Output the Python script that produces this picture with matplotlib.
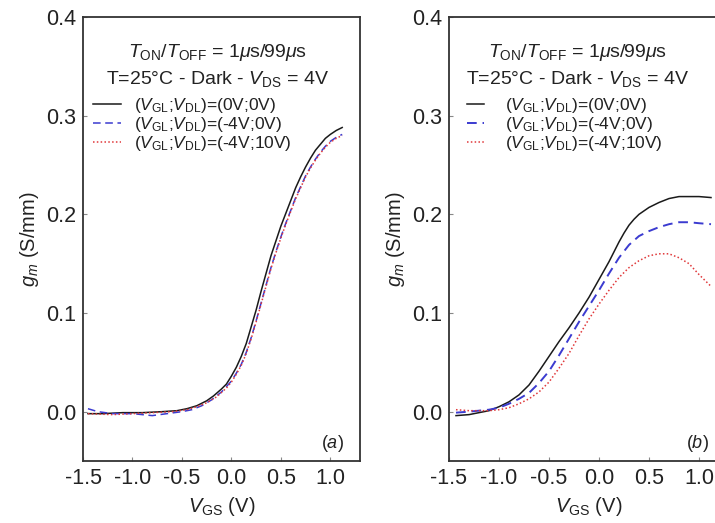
import matplotlib
matplotlib.use("Agg")
import matplotlib.pyplot as plt

plt.rcParams['font.family'] = ['Liberation Sans', 'DejaVu Sans']
plt.rcParams['mathtext.fontset'] = 'custom'
plt.rcParams['mathtext.rm'] = 'Liberation Sans'
plt.rcParams['mathtext.it'] = 'Liberation Sans:italic'
plt.rcParams['mathtext.bf'] = 'Liberation Sans:bold'

# panel (a)
xa_black = [-1.45, -1.3, -1.1, -0.9, -0.7, -0.55, -0.45, -0.35, -0.25, -0.18, -0.1, -0.05,
            0.0, 0.05, 0.1, 0.15, 0.2, 0.25, 0.3, 0.35, 0.4, 0.45, 0.5, 0.55, 0.6, 0.65,
            0.7, 0.75, 0.8, 0.85, 0.9, 0.95, 1.0, 1.06, 1.12]
ya_black = [-0.002, -0.002, -0.001, -0.001, 0.0, 0.001, 0.003, 0.006, 0.011, 0.016, 0.023, 0.028,
            0.036, 0.045, 0.056, 0.069, 0.086, 0.103, 0.122, 0.140, 0.158, 0.173, 0.188, 0.201,
            0.214, 0.227, 0.238, 0.248, 0.257, 0.265, 0.271, 0.277, 0.281, 0.285, 0.288]
xa_blue = [-1.45, -1.35, -1.2, -1.0, -0.8, -0.65, -0.5, -0.4, -0.3, -0.2, -0.1, 0.0, 0.05,
           0.1, 0.15, 0.2, 0.25, 0.3, 0.35, 0.4, 0.45, 0.5, 0.55, 0.6, 0.65, 0.7, 0.75, 0.8,
           0.85, 0.9, 0.95, 1.0, 1.06, 1.12]
ya_blue = [0.003, 0.0, -0.002, -0.002, -0.004, -0.002, 0.0, 0.002, 0.006, 0.012, 0.020, 0.031,
           0.039, 0.048, 0.060, 0.075, 0.092, 0.110, 0.128, 0.146, 0.162, 0.177, 0.191, 0.204,
           0.217, 0.228, 0.239, 0.248, 0.256, 0.263, 0.269, 0.274, 0.278, 0.281]
xa_red = [-1.45, -1.2, -1.0, -0.8, -0.6, -0.45, -0.35, -0.25, -0.15, -0.05, 0.0, 0.05, 0.1,
          0.15, 0.2, 0.25, 0.3, 0.35, 0.4, 0.45, 0.5, 0.55, 0.6, 0.65, 0.7, 0.75, 0.8, 0.85,
          0.9, 0.95, 1.0, 1.06, 1.12]
ya_red = [-0.002, -0.003, -0.002, -0.001, 0.0, 0.002, 0.005, 0.009, 0.015, 0.024, 0.030, 0.038,
          0.047, 0.059, 0.074, 0.091, 0.109, 0.127, 0.145, 0.161, 0.176, 0.190, 0.203, 0.216,
          0.227, 0.238, 0.247, 0.255, 0.262, 0.268, 0.273, 0.277, 0.280]

# panel (b)
xb_black = [-1.43, -1.3, -1.2, -1.1, -1.0, -0.9, -0.8, -0.7, -0.6, -0.5, -0.4, -0.3, -0.2,
            -0.1, 0.0, 0.1, 0.15, 0.2, 0.25, 0.3, 0.35, 0.4, 0.5, 0.6, 0.7, 0.8, 0.9, 1.0, 1.12]
yb_black = [-0.004, -0.003, -0.001, 0.001, 0.005, 0.010, 0.017, 0.027, 0.041, 0.056, 0.071,
            0.085, 0.100, 0.116, 0.134, 0.152, 0.162, 0.172, 0.181, 0.189, 0.195, 0.200, 0.207,
            0.212, 0.216, 0.218, 0.218, 0.218, 0.217]
xb_blue = [-1.43, -1.3, -1.2, -1.1, -1.0, -0.9, -0.8, -0.7, -0.6, -0.5, -0.4, -0.3, -0.2,
           -0.1, 0.0, 0.1, 0.2, 0.3, 0.4, 0.5, 0.6, 0.7, 0.8, 0.9, 1.0, 1.12]
yb_blue = [-0.001, 0.0, 0.001, 0.002, 0.004, 0.008, 0.013, 0.019, 0.029, 0.041, 0.057, 0.074,
           0.091, 0.107, 0.123, 0.140, 0.156, 0.169, 0.178, 0.183, 0.187, 0.190, 0.192, 0.192,
           0.191, 0.190]
xb_red = [-1.43, -1.3, -1.2, -1.1, -1.0, -0.9, -0.8, -0.7, -0.6, -0.5, -0.4, -0.3, -0.2,
          -0.1, 0.0, 0.1, 0.2, 0.3, 0.4, 0.5, 0.6, 0.7, 0.8, 0.9, 1.0, 1.12]
yb_red = [0.002, 0.001, 0.001, 0.001, 0.002, 0.004, 0.008, 0.013, 0.020, 0.030, 0.044, 0.059,
          0.077, 0.094, 0.109, 0.123, 0.136, 0.146, 0.153, 0.158, 0.160, 0.160, 0.156, 0.150,
          0.139, 0.127]

labels = [r'($V_{\rm GL}$;$V_{\rm DL}$)=(0V;0V)',
          r'($V_{\rm GL}$;$V_{\rm DL}$)=(-4V;0V)',
          r'($V_{\rm GL}$;$V_{\rm DL}$)=(-4V;10V)']
xticks = [-1.5, -1.0, -0.5, 0.0, 0.5, 1.0]
yticks = [0.0, 0.1, 0.2, 0.3, 0.4]

black = '#1a1a1a'
blue = '#3b3bd0'
red = '#e0383a'
txt = '#222222'

fig = plt.figure(figsize=(7.15, 5.23), dpi=100)
ax1 = fig.add_axes([83/715, 62/523, 277/715, 444/523])
ax2 = fig.add_axes([449/715, 62/523, 280/715, 444/523])


def style(ax, tag, tx, lx, hl, htp):
    ax.set_xlim(-1.45, 1.3)
    ax.set_ylim(-0.05, 0.4)
    ax.set_xticks(xticks)
    ax.set_yticks(yticks)
    ax.set_xticklabels(['%.1f' % v for v in xticks])
    ax.set_yticklabels(['%.1f' % v for v in yticks])
    ax.tick_params(direction='in', length=3, width=0.8, colors='#888888',
                   labelcolor=txt, labelsize=15.5, pad=5)
    for s in ax.spines.values():
        s.set_color('#333333')
        s.set_linewidth(1.3)
    ax.set_xlabel(r'$V_{\rm GS}$ (V)', fontsize=14.5, color=txt, labelpad=4)
    ax.set_ylabel(r'$g_m$ (S/mm)', fontsize=14.5, color=txt)
    ax.yaxis.set_label_coords(-0.15, 0.5)
    ax.text(tx, 0.92, r'$T_{\rm ON}$/$T_{\rm OFF}$ = 1$\mu$s/99$\mu$s', transform=ax.transAxes,
            ha='center', va='center', fontsize=14, color=txt)
    ax.text(tx, 0.86, r'T=25°C - Dark - $V_{\rm DS}$ = 4V', transform=ax.transAxes,
            ha='center', va='center', fontsize=14, color=txt)
    ax.text(0.9 if tag == 'a' else 0.886, 0.04, r'($\it{%s}$)' % tag, transform=ax.transAxes,
            ha='center', va='center', fontsize=13, color=txt)
    ax.legend(loc='upper left', bbox_to_anchor=(lx, 0.822), frameon=False, fontsize=12.5,
              handlelength=hl, handletextpad=htp, labelspacing=0.0, borderpad=0,
              borderaxespad=0, labelcolor=txt)


ax1.plot(xa_black, ya_black, color=black, lw=1.1, label=labels[0])
ax1.plot(xa_blue, ya_blue, color=blue, lw=1.1, ls=(0, (5, 3)), label=labels[1])
ax1.plot(xa_red, ya_red, color=red, lw=1.1, ls=(0, (1, 1.5)), label=labels[2])
style(ax1, 'a', 0.487, 10/277, 1.6, 0.75)

ax2.plot(xb_black, yb_black, color=black, lw=1.1, label=labels[0])
ax2.plot(xb_blue, yb_blue, color=blue, lw=1.4, ls=(0, (5, 3)), label=labels[1])
ax2.plot(xb_red, yb_red, color=red, lw=1.1, ls=(0, (1, 1.5)), label=labels[2])
style(ax2, 'b', 0.46, 18/280, 1.0, 1.2)

fig.savefig('out.png', dpi=100)
